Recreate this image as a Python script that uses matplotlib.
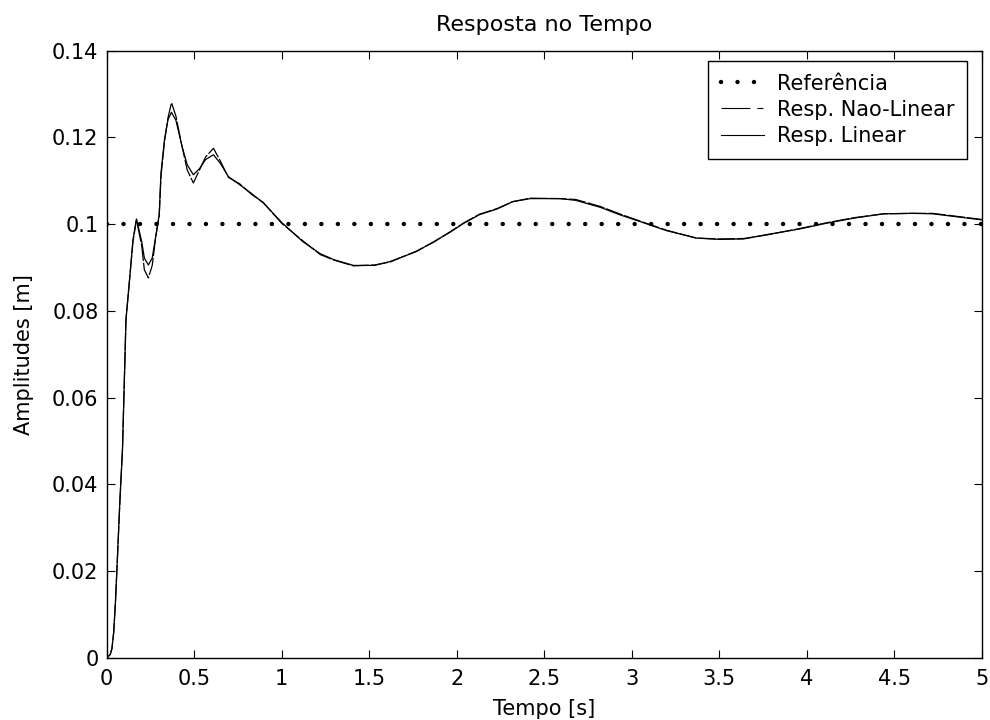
import matplotlib
matplotlib.use("Agg")
import matplotlib.pyplot as plt
from matplotlib.lines import Line2D

plt.rcParams['font.family'] = ['DejaVu Sans']

# time axis (s)
tempo = [0, 0.02, 0.03, 0.04, 0.05, 0.06, 0.075, 0.09, 0.10, 0.11,
         0.13, 0.15, 0.17, 0.20, 0.215, 0.238, 0.26, 0.28, 0.30, 0.31,
         0.33, 0.35, 0.37, 0.395, 0.43, 0.46, 0.495, 0.53, 0.565, 0.61,
         0.65, 0.695, 0.76, 0.83, 0.895, 1.0, 1.12, 1.22, 1.30, 1.41,
         1.53, 1.62, 1.77, 1.87, 1.96, 2.04, 2.13, 2.23, 2.32, 2.42,
         2.59, 2.68, 2.82, 2.93, 3.07, 3.20, 3.37, 3.50, 3.64, 3.77,
         3.96, 4.11, 4.27, 4.44, 4.60, 4.72, 4.84, 5.0]

resp_linear = [0, 0.0008, 0.0022, 0.006, 0.013, 0.022, 0.036, 0.048, 0.063, 0.078,
               0.087, 0.0964, 0.1012, 0.0960, 0.0922, 0.0906, 0.0922, 0.0972, 0.1022, 0.1118,
               0.1195, 0.1241, 0.1258, 0.1240, 0.1180, 0.1137, 0.1114, 0.1128, 0.1149, 0.1160,
               0.1140, 0.1110, 0.1091, 0.1070, 0.1049, 0.1004, 0.0960, 0.0932, 0.0918, 0.0905,
               0.0905, 0.0914, 0.0937, 0.0960, 0.0981, 0.1002, 0.1022, 0.1035, 0.1052, 0.1059,
               0.1059, 0.1055, 0.1039, 0.1022, 0.1003, 0.0985, 0.0968, 0.0965, 0.0966, 0.0976,
               0.0989, 0.1002, 0.1014, 0.1024, 0.1025, 0.1024, 0.1018, 0.1010]

resp_nao_linear = [0, 0.0008, 0.0022, 0.006, 0.013, 0.022, 0.036, 0.048, 0.063, 0.078,
                   0.087, 0.0960, 0.1010, 0.0950, 0.0895, 0.0876, 0.0905, 0.0970, 0.1020, 0.1110,
                   0.1190, 0.1245, 0.1280, 0.1250, 0.1180, 0.1125, 0.1095, 0.1125, 0.1155, 0.1175,
                   0.1145, 0.1108, 0.1093, 0.1068, 0.1050, 0.1002, 0.0962, 0.0930, 0.0917, 0.0904,
                   0.0906, 0.0913, 0.0938, 0.0959, 0.0982, 0.1003, 0.1023, 0.1036, 0.1052, 0.1060,
                   0.1059, 0.1057, 0.1041, 0.1024, 0.1004, 0.0986, 0.0968, 0.0966, 0.0967, 0.0975,
                   0.0990, 0.1003, 0.1015, 0.1024, 0.1025, 0.1025, 0.1019, 0.1011]

ref_t = [0, 5]
referencia = [0.1, 0.1]

xticks = [0, 0.5, 1, 1.5, 2, 2.5, 3, 3.5, 4, 4.5, 5]
yticks = [0, 0.02, 0.04, 0.06, 0.08, 0.1, 0.12, 0.14]
ytick_labels = ['0', '0.02', '0.04', '0.06', '0.08', '0.1', '0.12', '0.14']

fs = 15

fig = plt.figure(figsize=(9.9, 7.2), dpi=100)
ax = fig.add_axes([0.1078, 0.0861, 0.8838, 0.8435])

dots = (0, (0.01, 3.7))
ax.plot(ref_t, referencia, color='black', lw=3.2, linestyle=dots,
        dash_capstyle='round')
ax.plot(tempo, resp_nao_linear, color='black', lw=0.9, linestyle=(0, (14, 1.5)))
ax.plot(tempo, resp_linear, color='black', lw=0.9)

ax.set_xlim(0, 5)
ax.set_ylim(0, 0.14)
ax.set_xticks(xticks)
ax.set_xticklabels([f'{v:g}' for v in xticks])
ax.set_yticks(yticks)
ax.set_yticklabels(ytick_labels)
ax.tick_params(direction='in', length=6, width=0.8, top=True, right=True,
               labelsize=fs)
ax.tick_params(axis='x', pad=8)
ax.tick_params(axis='y', pad=6)
for s in ax.spines.values():
    s.set_linewidth(1.0)

ax.set_title('Resposta no Tempo', fontsize=16, pad=14)
ax.set_xlabel('Tempo [s]', fontsize=fs, labelpad=7)
ax.set_ylabel('Amplitudes [m]', fontsize=fs, labelpad=13)

# legend handles
h_ref = Line2D([], [], color='black', lw=3.2, linestyle=dots,
               dash_capstyle='round')
h_nl = Line2D([], [], color='black', lw=0.8, linestyle=(0, (26, 6.3, 5.4, 20)))
h_lin = Line2D([], [], color='black', lw=0.8)
leg = ax.legend([h_ref, h_nl, h_lin],
                ['Referência', 'Resp. Nao-Linear', 'Resp. Linear'],
                loc='upper right', bbox_to_anchor=(0.983, 0.983),
                borderaxespad=0, fontsize=fs, handlelength=2.1,
                handletextpad=0.6, labelspacing=0.3, borderpad=0.6,
                fancybox=False, framealpha=1, edgecolor='black')
leg.get_frame().set_linewidth(1.0)

fig.savefig('out.png', dpi=100)
